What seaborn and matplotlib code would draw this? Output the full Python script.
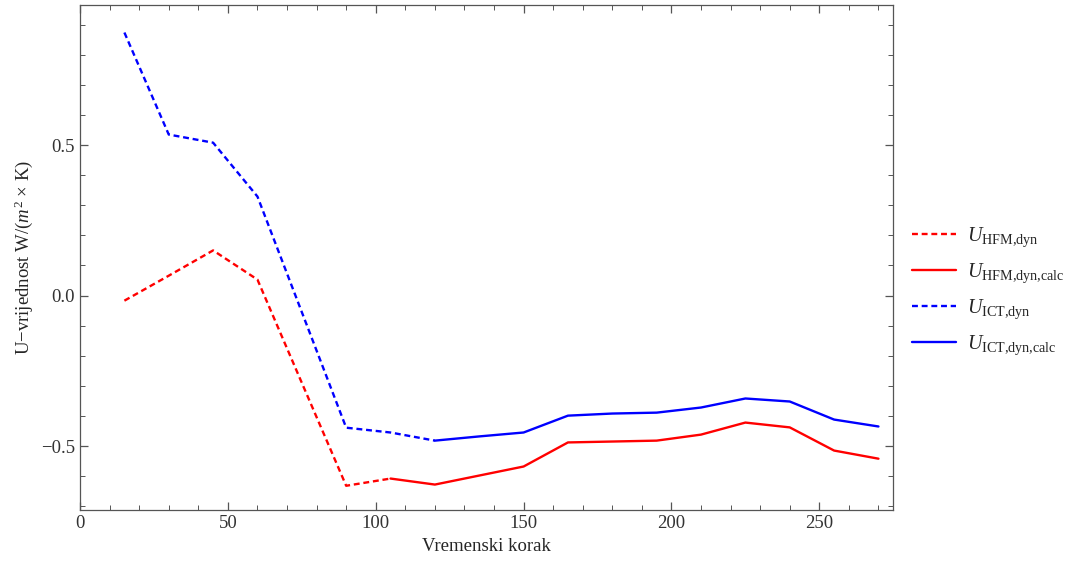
import pandas as pd
import matplotlib
matplotlib.use("Agg")
import matplotlib.pyplot as plt
from matplotlib.ticker import MultipleLocator
import seaborn as sns

# data
x_dyn_hfm = [15, 30, 45, 60, 75, 90, 105]
u_dyn_hfm = [-0.017, 0.066, 0.150, 0.053, -0.29, -0.632, -0.608]

x_calc_hfm = [105, 120, 135, 150, 165, 180, 195, 210, 225, 240, 255, 270]
u_calc_hfm = [-0.608, -0.628, -0.598, -0.568, -0.488, -0.485, -0.482, -0.462, -0.422, -0.438, -0.515, -0.542]

x_dyn_ict = [15, 30, 45, 60, 75, 90, 105, 120]
u_dyn_ict = [0.874, 0.535, 0.508, 0.329, -0.055, -0.439, -0.455, -0.482]

x_calc_ict = [120, 135, 150, 165, 180, 195, 210, 225, 240, 255, 270]
u_calc_ict = [-0.482, -0.468, -0.455, -0.399, -0.392, -0.389, -0.372, -0.342, -0.352, -0.412, -0.435]

labels = [r"$U_{\mathrm{HFM{,}dyn}}$", r"$U_{\mathrm{HFM{,}dyn{,}calc}}$",
          r"$U_{\mathrm{ICT{,}dyn}}$", r"$U_{\mathrm{ICT{,}dyn{,}calc}}$"]

sns.set_style("ticks")
plt.rcParams["font.family"] = ["Liberation Serif", "DejaVu Serif"]
plt.rcParams["mathtext.fontset"] = "custom"
plt.rcParams["mathtext.rm"] = "Liberation Serif"
plt.rcParams["mathtext.it"] = "Liberation Serif:italic"

fig = plt.figure(figsize=(10.7, 5.7), dpi=100)
ax = fig.add_axes([0.0748, 0.105, 0.76, 0.886])

series = [
    (x_dyn_hfm, u_dyn_hfm, "red", (0, (2.5, 1.6))),
    (x_calc_hfm, u_calc_hfm, "red", "-"),
    (x_dyn_ict, u_dyn_ict, "blue", (0, (2.5, 1.6))),
    (x_calc_ict, u_calc_ict, "blue", "-"),
]
for (xs, ys, col, ls), lab in zip(series, labels):
    df = pd.DataFrame({"x": xs, "u": ys})
    sns.lineplot(data=df, x="x", y="u", ax=ax, color=col, linestyle=ls,
                 linewidth=1.7, label=lab, legend=False)

ax.set_xlim(0, 275)
ax.set_ylim(-0.713, 0.965)
ax.xaxis.set_major_locator(MultipleLocator(50))
ax.xaxis.set_minor_locator(MultipleLocator(10))
ax.yaxis.set_major_locator(MultipleLocator(0.5))
ax.yaxis.set_minor_locator(MultipleLocator(0.1))
ax.yaxis.set_major_formatter(lambda v, p: f"{v:.1f}".replace("-", "\u2212"))
ax.tick_params(which="both", direction="in", top=True, right=True,
               color="#555555", labelsize=13.5, labelcolor="#333333")
ax.tick_params(which="major", length=6, width=0.9)
ax.tick_params(which="minor", length=3.5, width=0.7)
for s in ax.spines.values():
    s.set_color("#555555")
    s.set_linewidth(0.9)

ax.set_xlabel("Vremenski korak", fontsize=13.5)
ax.set_ylabel("U\u2212vrijednost W/($m^2$ $\\times$ K)", fontsize=13.5)

fig.legend(loc="upper left", bbox_to_anchor=(0.852, 0.605), frameon=False,
           fontsize=14.5, handlelength=2.2, labelspacing=0.62, handletextpad=0.55,
           borderpad=0, borderaxespad=0)

plt.savefig("out.png", dpi=100)
